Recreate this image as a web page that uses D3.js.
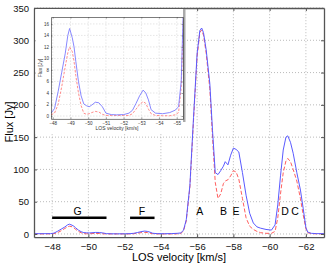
<!DOCTYPE html>
<html>
<head>
<meta charset="utf-8">
<title>Flux vs LOS velocity</title>
<style>
  body { margin: 0; background: #fff; }
  svg { display: block; font-family: "Liberation Sans", Arial, sans-serif; }
  .grid line { stroke: #aaa; stroke-dasharray: 1,2; stroke-width: 0.8; }
  .igrid line { stroke: #ccc; stroke-dasharray: 1.5,1.5; stroke-width: 0.5; }
</style>
</head>
<body>
<div id="chart"></div>
<script src="https://d3js.org/d3.v7.min.js"></script>
<script>
// LOS velocity [km/s] (shared by both spectra)
var velocity = [-47.0, -47.5, -47.9, -48.1, -48.3, -48.5, -48.7, -48.85, -48.95, -49.1, -49.2, -49.3, -49.45, -49.6, -49.75, -49.9,
  -50.05, -50.2, -50.4, -50.6, -50.8, -51.0, -51.3, -51.6, -52.0, -52.3, -52.5, -52.7, -52.9, -53.1, -53.25, -53.4, -53.55, -53.8,
  -54.2, -54.6, -54.9, -55.1, -55.25, -55.4, -55.6, -55.8, -56.0, -56.15, -56.25, -56.35, -56.5, -56.7, -56.85, -57.0, -57.15,
  -57.3, -57.45, -57.55, -57.7, -57.85, -58.0, -58.15, -58.3, -58.5, -58.7, -58.9, -59.1, -59.3, -59.5, -59.8, -60.1, -60.3,
  -60.45, -60.6, -60.75, -60.9, -61.0, -61.15, -61.3, -61.5, -61.7, -61.85, -62.0, -62.1, -62.3, -62.6, -63.0];
// solid blue spectrum [Jy]
var fluxBlue = [0.4, 0.45, 0.5, 1.3, 4.2, 7.5, 10.8, 14.0, 15.2, 13.6, 12.0, 9.5, 6.0, 3.5, 2.1, 1.8,
  1.6, 1.9, 2.4, 2.3, 1.6, 0.5, 0.25, 0.2, 0.25, 0.5, 1.0, 2.2, 3.5, 4.5, 4.0, 2.8, 1.1, 0.5,
  0.4, 0.6, 1.0, 1.6, 6, 22, 75, 180, 280, 315, 319, 312, 285, 233, 160, 95, 92,
  98, 105, 112, 107, 122, 133, 131, 127, 95, 60, 32, 17, 11, 9, 7, 6, 14,
  45, 90, 130, 150, 152, 142, 125, 95, 68, 40, 10, 3, 1, 0.5, 0.5];
// dashed red spectrum [Jy]
var fluxRed = [0.1, 0.1, 0.2, 0.5, 2.0, 5.0, 8.5, 11.0, 12.0, 11.2, 9.5, 7.0, 4.0, 1.8, 0.5, 0.3,
  0.4, 0.6, 0.8, 0.7, 0.3, 0.1, 0.1, 0.1, 0.1, 0.1, 0.4, 1.2, 2.0, 2.5, 2.2, 1.2, 0.4, 0.1,
  0.05, 0.05, 0.2, 0.6, 5, 20, 72, 175, 275, 312, 316, 308, 280, 225, 150, 80, 55,
  62, 78, 82, 84, 90, 98, 96, 85, 55, 25, 12, 7, 4, 2, 1, 1, 4,
  25, 62, 95, 113, 117, 112, 100, 82, 55, 30, 8, 2, 0.5, 0.2, 0.2];

var xTicks = [-48, -50, -52, -54, -56, -58, -60, -62];
var yTicks = [0, 50, 100, 150, 200, 250, 300, 350];
var insetXTicks = [-48, -49, -50, -51, -52, -53, -54, -55];
var insetYTicks = [0, 2, 4, 6, 8, 10, 12, 14, 16];

// component labels and velocity ranges
var compNames = ["A", "B", "E", "D", "C", "G", "F"];
var compVel = [-56.15, -57.45, -58.15, -60.85, -61.4, -49.4, -52.95];
var rangeNames = ["G", "F"];
var rangeFrom = [-48.0, -52.3];
var rangeTo = [-51.0, -53.65];

var W = 327, H = 263;
var svg = d3.select("#chart").append("svg").attr("width", W).attr("height", H);

var x = d3.scaleLinear().domain([-47, -63]).range([34, 324]);
var y = d3.scaleLinear().domain([-5, 350]).range([237.2, 8]);

var blue = velocity.map(function(v, i) { return [v, fluxBlue[i]]; });
var red = velocity.map(function(v, i) { return [v, fluxRed[i]]; });

// grid
svg.append("g").attr("class", "grid")
  .selectAll("line").data(xTicks).enter().append("line")
  .attr("x1", function(d) { return x(d); }).attr("x2", function(d) { return x(d); })
  .attr("y1", y.range()[0]).attr("y2", y.range()[1]);
svg.append("g").attr("class", "grid")
  .selectAll("line").data(yTicks).enter().append("line")
  .attr("y1", function(d) { return y(d); }).attr("y2", function(d) { return y(d); })
  .attr("x1", x.range()[0]).attr("x2", x.range()[1]);

var line = d3.line().x(function(d) { return x(d[0]); }).y(function(d) { return y(d[1]); });

svg.append("path").datum(red).attr("d", line)
  .attr("fill", "none").attr("stroke", "#ff5f5f").attr("stroke-width", 1).attr("stroke-dasharray", "4,2");
svg.append("path").datum(blue).attr("d", line)
  .attr("fill", "none").attr("stroke", "#5a5aff").attr("stroke-width", 1);

// component ranges and letters
rangeNames.forEach(function(n, i) {
  svg.append("line")
    .attr("x1", x(rangeFrom[i])).attr("x2", x(rangeTo[i]))
    .attr("y1", y(25)).attr("y2", y(25))
    .attr("stroke", "#000").attr("stroke-width", 2.5);
});
svg.selectAll(".comp").data(compNames).enter().append("text")
  .attr("class", "comp")
  .attr("x", function(d, i) { return x(compVel[i]); })
  .attr("y", y(29))
  .attr("text-anchor", "middle")
  .style("font-size", "10.5px")
  .text(function(d) { return d; });

// axes (ticks inside, MATLAB style)
var ax = svg.append("g");
ax.append("g").attr("transform", "translate(0," + y.range()[0] + ")")
  .call(d3.axisBottom(x).tickValues(xTicks).tickSizeInner(-3).tickSizeOuter(0).tickPadding(6)
    .tickFormat(function(d) { return "\u2212" + Math.abs(d); }));
ax.append("g").attr("transform", "translate(0," + y.range()[1] + ")")
  .call(d3.axisTop(x).tickValues(xTicks).tickSizeInner(-3).tickSizeOuter(0).tickFormat(""));
ax.append("g").attr("transform", "translate(" + x.range()[0] + ",0)")
  .call(d3.axisLeft(y).tickValues(yTicks).tickSizeInner(-3).tickSizeOuter(0).tickPadding(5));
ax.append("g").attr("transform", "translate(" + x.range()[1] + ",0)")
  .call(d3.axisRight(y).tickValues(yTicks).tickSizeInner(-3).tickSizeOuter(0).tickFormat(""));
ax.selectAll(".domain").attr("stroke", "#555").attr("stroke-width", 1.3);
ax.selectAll(".tick line").attr("stroke", "#555");
ax.selectAll("text").style("font-size", "9.5px").style("font-family", "'Liberation Sans', Arial, sans-serif").attr("fill", "#111");

svg.append("text").attr("x", (x.range()[0] + x.range()[1]) / 2).attr("y", 261)
  .attr("text-anchor", "middle").style("font-size", "11px").text("LOS velocity [km/s]");
svg.append("text").attr("transform", "translate(13," + 122 + ") rotate(-90)")
  .attr("text-anchor", "middle").style("font-size", "11px").text("Flux [Jy]");

// ---- inset ----
var ix = d3.scaleLinear().domain([-47.9, -55.35]).range([51, 183]);
var iy = d3.scaleLinear().domain([-0.5, 17.2]).range([118.9, 17]);

var inset = svg.append("g");
inset.append("rect").attr("x", 35.5).attr("y", 9).attr("width", 149.5).attr("height", 125).attr("fill", "#fff");
inset.append("rect").attr("x", 183).attr("y", 9).attr("width", 2.5).attr("height", 113).attr("fill", "#aaa");

inset.append("g").attr("class", "igrid")
  .selectAll("line").data(insetXTicks).enter().append("line")
  .attr("x1", function(d) { return ix(d); }).attr("x2", function(d) { return ix(d); })
  .attr("y1", iy.range()[0]).attr("y2", iy.range()[1]);
inset.append("g").attr("class", "igrid")
  .selectAll("line").data(insetYTicks).enter().append("line")
  .attr("y1", function(d) { return iy(d); }).attr("y2", function(d) { return iy(d); })
  .attr("x1", ix.range()[0]).attr("x2", ix.range()[1]);

var iline = d3.line().x(function(d) { return ix(d[0]); }).y(function(d) { return iy(d[1]); });
var clip = inset.append("clipPath").attr("id", "iclip").append("rect")
  .attr("x", 51).attr("y", 17).attr("width", 132).attr("height", 102);
var curves = inset.append("g").attr("clip-path", "url(#iclip)");
curves.append("path").datum(red).attr("d", iline)
  .attr("fill", "none").attr("stroke", "#ff8080").attr("stroke-width", 0.9).attr("stroke-dasharray", "2.5,1.5");
curves.append("path").datum(blue).attr("d", iline)
  .attr("fill", "none").attr("stroke", "#7b7bff").attr("stroke-width", 0.9);

var iax = inset.append("g");
iax.append("g").attr("transform", "translate(0," + iy.range()[0] + ")")
  .call(d3.axisBottom(ix).tickValues(insetXTicks).tickSizeInner(-1.5).tickSizeOuter(0).tickPadding(2.5)
    .tickFormat(function(d) { return "\u2212" + Math.abs(d); }));
iax.append("g").attr("transform", "translate(0," + iy.range()[1] + ")")
  .call(d3.axisTop(ix).tickValues(insetXTicks).tickSizeInner(-1.5).tickSizeOuter(0).tickFormat(""));
iax.append("g").attr("transform", "translate(" + ix.range()[0] + ",0)")
  .call(d3.axisLeft(iy).tickValues(insetYTicks).tickSizeInner(-1.5).tickSizeOuter(0).tickPadding(2));
iax.append("g").attr("transform", "translate(" + ix.range()[1] + ",0)")
  .call(d3.axisRight(iy).tickValues(insetYTicks).tickSizeInner(-1.5).tickSizeOuter(0).tickFormat(""));
iax.selectAll(".domain").attr("stroke", "#444").attr("stroke-width", 0.7);
iax.selectAll(".tick line").attr("stroke", "#444").attr("stroke-width", 0.5);
iax.selectAll("text").style("font-size", "4.5px").attr("fill", "#333");

inset.append("text").attr("x", 117).attr("y", 130).attr("text-anchor", "middle")
  .style("font-size", "5px").attr("fill", "#333").text("LOS velocity [km/s]");
inset.append("text").attr("transform", "translate(42,68) rotate(-90)").attr("text-anchor", "middle")
  .style("font-size", "5px").attr("fill", "#333").text("Flux [Jy]");
</script>
</body>
</html>
